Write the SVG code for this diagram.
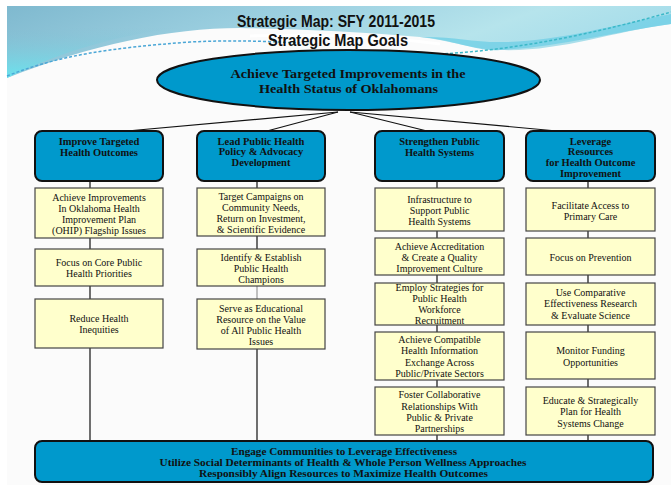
<svg xmlns="http://www.w3.org/2000/svg" width="671" height="485" viewBox="0 0 671 485">
<defs>
<linearGradient id="gTop" x1="0" y1="0" x2="1" y2="0.3">
<stop offset="0" stop-color="#7fb9cf"/>
<stop offset="0.45" stop-color="#9fd2e2"/>
<stop offset="0.75" stop-color="#b6e4ec"/>
<stop offset="1" stop-color="#a4dcea"/>
</linearGradient>
<linearGradient id="gLeft" x1="0" y1="0" x2="0" y2="1">
<stop offset="0" stop-color="#7fbfd3" stop-opacity="0"/>
<stop offset="1" stop-color="#68e4ef"/>
</linearGradient>
<style>
.blue{fill:#0099cc;stroke:#111;stroke-width:2}
.yel{fill:#ffffcc;stroke:#444;stroke-width:1.2}
.bt{font-family:"Liberation Serif","DejaVu Serif",serif;font-weight:bold;font-size:10.5px;fill:#111;text-anchor:middle}
.ft{font-family:"Liberation Serif","DejaVu Serif",serif;font-weight:bold;font-size:10.5px;fill:#111;text-anchor:middle}
.yt{font-family:"Liberation Serif","DejaVu Serif",serif;font-size:10px;fill:#111;text-anchor:middle}
.tt{font-family:"Liberation Sans Narrow","Liberation Sans",sans-serif;font-weight:bold;font-size:17px;fill:#111;text-anchor:middle}
.et{font-family:"Liberation Serif","DejaVu Serif",serif;font-weight:bold;font-size:13px;fill:#111;text-anchor:middle}
.con{stroke:#111;stroke-width:1.2;fill:none}
</style>
</defs>
<rect x="0" y="0" width="671" height="485" fill="#ffffff"/>
<rect x="7" y="6" width="664" height="479" fill="#fbfbfb"/>
<g id="background">
<path d="M7,6 H671 V24 C610,32 560,52 500,50 C470,49 450,40 420,37 C360,32 300,29 240,28 C170,28 90,45 7,78 Z" fill="url(#gTop)"/>
<path d="M7,30 C60,28 120,26 180,28 C120,34 60,52 7,78 Z" fill="url(#gLeft)"/>
<path d="M420,37 C455,40 478,52 500,50 C560,47 612,32 671,24 V14 C610,26 555,42 500,42 C470,42 450,36 420,37 Z" fill="#72cfe6" opacity="0.8"/>
<path d="M250,36 C310,34 380,36 440,44" stroke="#ffffff" stroke-width="3" fill="none" opacity="0.9"/>
<path d="M7,76 C60,55 110,48 190,42 C230,40 260,41 300,43" stroke="#4aa6d6" stroke-width="1.5" stroke-dasharray="3,2" fill="none"/>
<path d="M440,54 C520,50 600,32 671,12" stroke="#3bb8c8" stroke-width="1.5" stroke-dasharray="3,2" fill="none"/>
</g>
<g id="title">
<text class="tt" x="336" y="27" textLength="198" lengthAdjust="spacingAndGlyphs">Strategic Map: SFY 2011-2015</text>
<text class="tt" x="338" y="46" textLength="140" lengthAdjust="spacingAndGlyphs">Strategic Map Goals</text>
</g>
<g id="connectors">
<line class="con" x1="338" y1="112" x2="127" y2="131"/>
<line class="con" x1="338" y1="112" x2="267" y2="131"/>
<line class="con" x1="350" y1="112" x2="427" y2="131"/>
<line class="con" x1="350" y1="112" x2="557" y2="131"/>
<line class="con" x1="90" y1="181" x2="90" y2="441"/>
<line class="con" x1="257" y1="181" x2="257" y2="286"/>
<line x1="257" y1="286" x2="257" y2="299" stroke="#999" stroke-width="1.2"/>
<line class="con" x1="257" y1="299" x2="257" y2="441"/>
<line class="con" x1="437" y1="181" x2="437" y2="441"/>
<line class="con" x1="588" y1="181" x2="588" y2="441"/>
</g>
<g id="goal">
<ellipse cx="348.5" cy="80" rx="191.5" ry="30" class="blue"/>
<text class="et" x="348" y="78" textLength="235" lengthAdjust="spacingAndGlyphs">Achieve Targeted Improvements in the</text>
<text class="et" x="348.5" y="93" textLength="179" lengthAdjust="spacingAndGlyphs">Health Status of Oklahomans</text>
</g>
<g id="goalA">
<rect x="35" y="131" width="128" height="50" rx="7" class="blue"/>
<text class="bt" x="99" y="145">Improve Targeted</text>
<text class="bt" x="99" y="156">Health Outcomes</text>
</g>
<g id="goalB">
<rect x="197" y="131" width="128" height="50" rx="7" class="blue"/>
<text class="bt" x="261" y="144.5">Lead Public Health</text>
<text class="bt" x="261" y="155.3">Policy &amp; Advocacy</text>
<text class="bt" x="261" y="166">Development</text>
</g>
<g id="goalC">
<rect x="375" y="131" width="129" height="50" rx="7" class="blue"/>
<text class="bt" x="439.5" y="145">Strengthen Public</text>
<text class="bt" x="439.5" y="156">Health Systems</text>
</g>
<g id="goalD">
<rect x="526" y="131" width="129" height="50" rx="7" class="blue"/>
<text class="bt" x="590.5" y="144.5">Leverage</text>
<text class="bt" x="590.5" y="155.3">Resources</text>
<text class="bt" x="590.5" y="166">for Health Outcome</text>
<text class="bt" x="590.5" y="176.7">Improvement</text>
</g>
<g id="a1">
<rect x="35" y="188" width="128" height="50" class="yel"/>
<text class="yt" x="99" y="200.5">Achieve Improvements</text>
<text class="yt" x="99" y="211.5">In Oklahoma Health</text>
<text class="yt" x="99" y="222.5">Improvement Plan</text>
<text class="yt" x="99" y="233.5">(OHIP) Flagship Issues</text>
</g>
<g id="a2">
<rect x="35" y="249" width="128" height="37" class="yel"/>
<text class="yt" x="99" y="265.5">Focus on Core Public</text>
<text class="yt" x="99" y="277">Health Priorities</text>
</g>
<g id="a3">
<rect x="35" y="299" width="128" height="49" class="yel"/>
<text class="yt" x="99" y="321.5">Reduce Health</text>
<text class="yt" x="99" y="332.5">Inequities</text>
</g>
<g id="b1">
<rect x="197" y="188" width="128" height="48" class="yel"/>
<text class="yt" x="261" y="199.5">Target Campaigns  on</text>
<text class="yt" x="261" y="210.5">Community Needs,</text>
<text class="yt" x="261" y="222">Return on Investment,</text>
<text class="yt" x="261" y="233">&amp; Scientific Evidence</text>
</g>
<g id="b2">
<rect x="197" y="249" width="128" height="37" class="yel"/>
<text class="yt" x="261" y="260.5">Identify &amp; Establish</text>
<text class="yt" x="261" y="271.5">Public Health</text>
<text class="yt" x="261" y="282.5">Champions</text>
</g>
<g id="b3">
<rect x="197" y="299" width="128" height="50" class="yel"/>
<text class="yt" x="261" y="311.5">Serve as Educational</text>
<text class="yt" x="261" y="322.5">Resource on the Value</text>
<text class="yt" x="261" y="333.5">of All Public Health</text>
<text class="yt" x="261" y="344.5">Issues</text>
</g>
<g id="c1">
<rect x="375" y="188" width="129" height="43" class="yel"/>
<text class="yt" x="439.5" y="202.5">Infrastructure to</text>
<text class="yt" x="439.5" y="213.5">Support Public</text>
<text class="yt" x="439.5" y="224.5">Health Systems</text>
</g>
<g id="c2">
<rect x="375" y="238" width="129" height="37" class="yel"/>
<text class="yt" x="439.5" y="249.5">Achieve Accreditation</text>
<text class="yt" x="439.5" y="260.5">&amp; Create a Quality</text>
<text class="yt" x="439.5" y="271.5">Improvement Culture</text>
</g>
<g id="c3">
<rect x="375" y="283" width="129" height="42" class="yel"/>
<text class="yt" x="439.5" y="290.5">Employ Strategies for</text>
<text class="yt" x="439.5" y="301.5">Public Health</text>
<text class="yt" x="439.5" y="312.5">Workforce</text>
<text class="yt" x="439.5" y="323.5">Recruitment</text>
</g>
<g id="c4">
<rect x="375" y="332" width="129" height="48" class="yel"/>
<text class="yt" x="439.5" y="342.5">Achieve Compatible</text>
<text class="yt" x="439.5" y="353.5">Health Information</text>
<text class="yt" x="439.5" y="365.5">Exchange  Across</text>
<text class="yt" x="439.5" y="376.5">Public/Private Sectors</text>
</g>
<g id="c5">
<rect x="375" y="387" width="129" height="48" class="yel"/>
<text class="yt" x="439.5" y="397.5">Foster Collaborative</text>
<text class="yt" x="439.5" y="409.5">Relationships With</text>
<text class="yt" x="439.5" y="420.5">Public &amp; Private</text>
<text class="yt" x="439.5" y="431.5">Partnerships</text>
</g>
<g id="d1">
<rect x="526" y="188" width="129" height="43" class="yel"/>
<text class="yt" x="590.5" y="208.5">Facilitate Access to</text>
<text class="yt" x="590.5" y="219.5">Primary Care</text>
</g>
<g id="d2">
<rect x="526" y="238" width="129" height="37" class="yel"/>
<text class="yt" x="590.5" y="260.5">Focus on Prevention</text>
</g>
<g id="d3">
<rect x="526" y="283" width="129" height="42" class="yel"/>
<text class="yt" x="590.5" y="295.5">Use Comparative</text>
<text class="yt" x="590.5" y="306.5">Effectiveness Research</text>
<text class="yt" x="590.5" y="318.5">&amp; Evaluate Science</text>
</g>
<g id="d4">
<rect x="526" y="332" width="129" height="47" class="yel"/>
<text class="yt" x="590.5" y="353.5">Monitor Funding</text>
<text class="yt" x="590.5" y="365.5">Opportunities</text>
</g>
<g id="d5">
<rect x="526" y="387" width="129" height="48" class="yel"/>
<text class="yt" x="590.5" y="403.5">Educate &amp;  Strategically</text>
<text class="yt" x="590.5" y="414.5">Plan for Health</text>
<text class="yt" x="590.5" y="426.5">Systems Change</text>
</g>
<g id="foundation">
<rect x="35" y="441" width="618" height="41" rx="7" class="blue"/>
<text class="ft" x="344" y="455" textLength="226" lengthAdjust="spacingAndGlyphs">Engage Communities to Leverage Effectiveness</text>
<text class="ft" x="343" y="466" textLength="367" lengthAdjust="spacingAndGlyphs">Utilize Social Determinants of Health &amp; Whole Person Wellness Approaches</text>
<text class="ft" x="343.5" y="477" textLength="289" lengthAdjust="spacingAndGlyphs">Responsibly Align Resources to Maximize Health Outcomes</text>
</g>
</svg>
